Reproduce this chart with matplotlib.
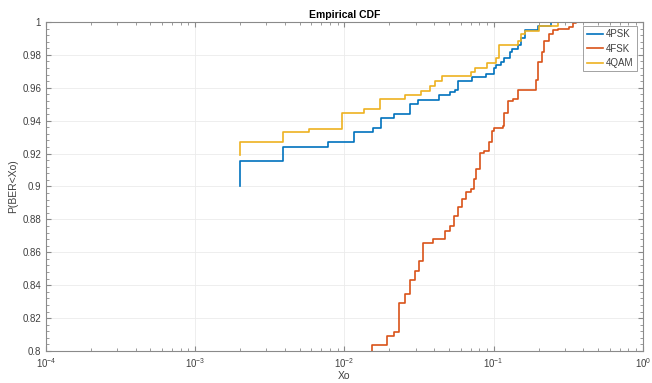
import numpy as np
import matplotlib
matplotlib.use('Agg')
import matplotlib.pyplot as plt
from matplotlib.ticker import LogLocator, MultipleLocator, NullFormatter

# step positions (BER) and CDF level reached at each step
psk_x = [0.0020, 0.0039, 0.0077, 0.0115, 0.0156, 0.0175, 0.0216, 0.0274, 0.0311,
         0.0427, 0.0512, 0.0548, 0.0577, 0.0720, 0.0888, 0.1007, 0.1030, 0.112,
         0.118, 0.128, 0.133, 0.145, 0.153, 0.161, 0.197, 0.243]
psk_y = [0.9155, 0.9243, 0.9271, 0.9329, 0.9357, 0.9415, 0.9440, 0.9500, 0.9527,
         0.9555, 0.9573, 0.9589, 0.9643, 0.9665, 0.9686, 0.9718, 0.9740, 0.9755,
         0.9783, 0.9815, 0.9837, 0.9860, 0.9905, 0.9950, 0.9977, 1.0]
psk_start = 0.900

fsk_x = [0.01535, 0.01943, 0.02136, 0.02336, 0.02551, 0.02734, 0.02956, 0.03148,
         0.03368, 0.03940, 0.04735, 0.05122, 0.05395, 0.05771, 0.06146, 0.06483,
         0.07013, 0.07386, 0.07586, 0.08075, 0.08643, 0.09348, 0.0975, 0.1011,
         0.1149, 0.1180, 0.1242, 0.1341, 0.1449, 0.1926, 0.1974, 0.2113, 0.2189,
         0.2365, 0.2489, 0.2689, 0.3221, 0.3388, 0.3573]
fsk_y = [0.8038, 0.8091, 0.8118, 0.8294, 0.8347, 0.8431, 0.8484, 0.8547, 0.8656,
         0.8679, 0.8732, 0.8760, 0.8819, 0.8878, 0.8923, 0.8966, 0.8982, 0.9043,
         0.9104, 0.9206, 0.9217, 0.9271, 0.9335, 0.9357, 0.9368, 0.9444, 0.9522,
         0.9533, 0.9589, 0.9646, 0.9755, 0.9819, 0.9883, 0.9927, 0.9950, 0.9960,
         0.9970, 0.9995, 1.0]
fsk_start = 0.790

qam_x = [0.0020, 0.0039, 0.0058, 0.0096, 0.0135, 0.0174, 0.0255, 0.0328, 0.0374,
         0.0407, 0.0449, 0.0701, 0.0746, 0.0906, 0.1038, 0.109, 0.145, 0.153,
         0.161, 0.200, 0.268]
qam_y = [0.9270, 0.9329, 0.9352, 0.9444, 0.9471, 0.9529, 0.9555, 0.9582, 0.9610,
         0.9643, 0.9670, 0.9697, 0.9722, 0.9750, 0.9783, 0.9860, 0.9887, 0.9927,
         0.9943, 0.9973, 1.0]
qam_start = 0.919

names = ['4PSK', '4FSK', '4QAM']
colors = ['#0072BD', '#D95319', '#EDB120']

plt.rcParams['font.family'] = ['Liberation Sans', 'DejaVu Sans']

fig = plt.figure(figsize=(6.52, 3.83), dpi=100)
ax = fig.add_axes([0.0706, 0.0836, 0.9154, 0.859])

series = [(psk_x, psk_y, psk_start), (fsk_x, fsk_y, fsk_start), (qam_x, qam_y, qam_start)]
for (xs, ys, y0), name, c in zip(series, names, colors):
    sx = [xs[0]] + list(xs)
    sy = [y0] + list(ys)
    ax.step(sx, sy, where='post', color=c, lw=1.2, label=name)

ax.set_xscale('log')
ax.set_xlim(1e-4, 1)
ax.set_ylim(0.8, 1)
ax.xaxis.set_major_locator(LogLocator(base=10, numticks=10))
ax.xaxis.set_minor_locator(LogLocator(base=10, subs=np.arange(2, 10), numticks=20))
ax.xaxis.set_minor_formatter(NullFormatter())
ax.yaxis.set_minor_locator(MultipleLocator(0.004))
ax.set_yticks(np.arange(0.8, 1.001, 0.02))
ax.set_yticklabels(['0.8', '0.82', '0.84', '0.86', '0.88', '0.9', '0.92', '0.94',
                    '0.96', '0.98', '1'])

ax.grid(True, which='major', color='#ebebeb', lw=0.6)
ax.set_axisbelow(True)
for s in ax.spines.values():
    s.set_color('#8a8a8a')
    s.set_linewidth(0.8)
ax.tick_params(which='both', direction='in', top=True, right=True,
               colors='#8a8a8a', labelcolor='#404040', labelsize=7)
ax.tick_params(which='major', length=3.5)
ax.tick_params(which='minor', length=2)

ax.set_title('Empirical CDF', fontsize=7.5, fontweight='bold', pad=3)
ax.set_xlabel('Xo', fontsize=7.5, color='#404040', labelpad=1)
ax.set_ylabel('P(BER<Xo)', fontsize=7.5, color='#404040', labelpad=3)

leg = ax.legend(loc='upper right', bbox_to_anchor=(0.990, 0.988), borderaxespad=0,
                fontsize=7, frameon=True, fancybox=False, borderpad=0.35,
                handlelength=1.7, handletextpad=0.3, labelspacing=0.45)
leg.get_frame().set_edgecolor('#8a8a8a')
leg.get_frame().set_linewidth(0.7)
for t in leg.get_texts():
    t.set_color('#404040')

fig.savefig('out.png', dpi=100)
